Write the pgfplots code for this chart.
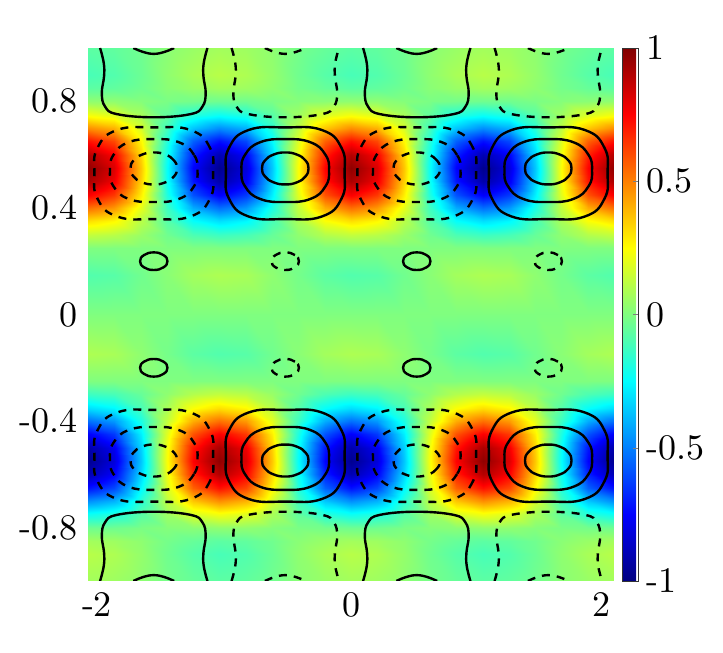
\documentclass[border=0pt]{standalone}
\usepackage{pgfplots}
\pgfplotsset{compat=1.18}
\font\lmten="[lmroman10-regular]" at 36pt
\pgfplotsset{
  sol/.style={black, line width=2.4pt, smooth, tension=0.7},
  das/.style={black, line width=2.4pt, smooth, tension=0.7, dash pattern=on 8pt off 7pt},
  solc/.style={black, line width=2.4pt, smooth cycle, tension=0.8},
  dasc/.style={black, line width=2.4pt, smooth cycle, tension=0.8, dash pattern=on 8pt off 7pt},
}
\begin{document}
\begin{tikzpicture}
\path[use as bounding box] (-88pt,-72pt) rectangle (635pt,581pt);
\begin{axis}[
  at={(0,0)}, anchor=south west,
  scale only axis, width=526pt, height=533pt,
  xmin=-2, xmax=2, ymin=-1, ymax=1,
  axis line style={draw=none}, major tick length=0pt,
  view={0}{90},
  xtick={-2,0,2}, xticklabels={\hspace*{18pt}-2,0,2\hspace*{26pt}},
  ytick={-0.8,-0.4,0,0.4,0.8}, yticklabels={-0.8,-0.4,0,0.4,0.8},
  tick label style={font=\lmten, inner sep=0pt},
  xticklabel style={yshift=-11pt},
  yticklabel style={xshift=-10pt},
  colormap/jet, point meta min=-1, point meta max=1,
  colorbar,
  colorbar style={
    at={(1.0152,1)}, anchor=north west, width=16pt,
    ytick={-1,-0.5,0,0.5,1}, yticklabels={-1,-0.5,0,0.5,1},
    ticklabel pos=right, ytick pos=right, tick align=inside, major tick length=5pt,
    yticklabel style={font=\lmten, inner sep=0pt, xshift=8pt},
    axis line style={draw=black!80, line width=0.8pt},
  },
]
\addplot3[surf, shader=interp, mesh/cols=21, mesh/ordering=x varies] table {
-2 -1 .07
-1.8 -1 .06
-1.6 -1 .03
-1.4 -1 -.02
-1.2 -1 -.05
-1 -1 -.07
-.8 -1 -.06
-.6 -1 -.03
-.4 -1 .02
-.2 -1 .05
0 -1 .07
.2 -1 .06
.4 -1 .03
.6 -1 -.02
.8 -1 -.05
1 -1 -.07
1.2 -1 -.06
1.4 -1 -.03
1.6 -1 .02
1.8 -1 .05
2 -1 .07
-2 -.9 .11
-1.8 -.9 .09
-1.6 -.9 .04
-1.4 -.9 -.03
-1.2 -.9 -.08
-1 -.9 -.11
-.8 -.9 -.09
-.6 -.9 -.04
-.4 -.9 .03
-.2 -.9 .08
0 -.9 .11
.2 -.9 .09
.4 -.9 .04
.6 -.9 -.03
.8 -.9 -.08
1 -.9 -.11
1.2 -.9 -.09
1.4 -.9 -.04
1.6 -.9 .03
1.8 -.9 .08
2 -.9 .11
-2 -.85 .07
-1.8 -.85 .06
-1.6 -.85 .03
-1.4 -.85 -.02
-1.2 -.85 -.05
-1 -.85 -.07
-.8 -.85 -.06
-.6 -.85 -.03
-.4 -.85 .02
-.2 -.85 .05
0 -.85 .07
.2 -.85 .06
.4 -.85 .03
.6 -.85 -.02
.8 -.85 -.05
1 -.85 -.07
1.2 -.85 -.06
1.4 -.85 -.03
1.6 -.85 .02
1.8 -.85 .05
2 -.85 .07
-2 -.8 -.03
-1.8 -.8 -.03
-1.6 -.8 -.01
-1.4 -.8 .01
-1.2 -.8 .02
-1 -.8 .03
-.8 -.8 .03
-.6 -.8 .01
-.4 -.8 -.01
-.2 -.8 -.02
0 -.8 -.03
.2 -.8 -.03
.4 -.8 -.01
.6 -.8 .01
.8 -.8 .02
1 -.8 .03
1.2 -.8 .03
1.4 -.8 .01
1.6 -.8 -.01
1.8 -.8 -.02
2 -.8 -.03
-2 -.75 -.23
-1.8 -.75 -.19
-1.6 -.75 -.08
-1.4 -.75 .06
-1.2 -.75 .18
-1 -.75 .23
-.8 -.75 .19
-.6 -.75 .08
-.4 -.75 -.06
-.2 -.75 -.18
0 -.75 -.23
.2 -.75 -.19
.4 -.75 -.08
.6 -.75 .06
.8 -.75 .18
1 -.75 .23
1.2 -.75 .19
1.4 -.75 .08
1.6 -.75 -.06
1.8 -.75 -.18
2 -.75 -.23
-2 -.7 -.47
-1.8 -.7 -.40
-1.6 -.7 -.17
-1.4 -.7 .12
-1.2 -.7 .36
-1 -.7 .47
-.8 -.7 .40
-.6 -.7 .17
-.4 -.7 -.12
-.2 -.7 -.36
0 -.7 -.47
.2 -.7 -.40
.4 -.7 -.17
.6 -.7 .12
.8 -.7 .36
1 -.7 .47
1.2 -.7 .40
1.4 -.7 .17
1.6 -.7 -.12
1.8 -.7 -.36
2 -.7 -.47
-2 -.65 -.72
-1.8 -.65 -.61
-1.6 -.65 -.26
-1.4 -.65 .18
-1.2 -.65 .56
-1 -.65 .72
-.8 -.65 .61
-.6 -.65 .26
-.4 -.65 -.18
-.2 -.65 -.56
0 -.65 -.72
.2 -.65 -.61
.4 -.65 -.26
.6 -.65 .18
.8 -.65 .56
1 -.65 .72
1.2 -.65 .61
1.4 -.65 .26
1.6 -.65 -.18
1.8 -.65 -.56
2 -.65 -.72
-2 -.6 -.90
-1.8 -.6 -.76
-1.6 -.6 -.33
-1.4 -.6 .22
-1.2 -.6 .69
-1 -.6 .90
-.8 -.6 .76
-.6 -.6 .33
-.4 -.6 -.22
-.2 -.6 -.69
0 -.6 -.90
.2 -.6 -.76
.4 -.6 -.33
.6 -.6 .22
.8 -.6 .69
1 -.6 .90
1.2 -.6 .76
1.4 -.6 .33
1.6 -.6 -.22
1.8 -.6 -.69
2 -.6 -.90
-2 -.55 -.97
-1.8 -.55 -.82
-1.6 -.55 -.36
-1.4 -.55 .24
-1.2 -.55 .75
-1 -.55 .97
-.8 -.55 .82
-.6 -.55 .36
-.4 -.55 -.24
-.2 -.55 -.75
0 -.55 -.97
.2 -.55 -.82
.4 -.55 -.36
.6 -.55 .24
.8 -.55 .75
1 -.55 .97
1.2 -.55 .82
1.4 -.55 .36
1.6 -.55 -.24
1.8 -.55 -.75
2 -.55 -.97
-2 -.5 -.92
-1.8 -.5 -.78
-1.6 -.5 -.34
-1.4 -.5 .23
-1.2 -.5 .71
-1 -.5 .92
-.8 -.5 .78
-.6 -.5 .34
-.4 -.5 -.23
-.2 -.5 -.71
0 -.5 -.92
.2 -.5 -.78
.4 -.5 -.34
.6 -.5 .23
.8 -.5 .71
1 -.5 .92
1.2 -.5 .78
1.4 -.5 .34
1.6 -.5 -.23
1.8 -.5 -.71
2 -.5 -.92
-2 -.45 -.76
-1.8 -.45 -.64
-1.6 -.45 -.28
-1.4 -.45 .19
-1.2 -.45 .59
-1 -.45 .76
-.8 -.45 .64
-.6 -.45 .28
-.4 -.45 -.19
-.2 -.45 -.59
0 -.45 -.76
.2 -.45 -.64
.4 -.45 -.28
.6 -.45 .19
.8 -.45 .59
1 -.45 .76
1.2 -.45 .64
1.4 -.45 .28
1.6 -.45 -.19
1.8 -.45 -.59
2 -.45 -.76
-2 -.4 -.53
-1.8 -.4 -.45
-1.6 -.4 -.20
-1.4 -.4 .13
-1.2 -.4 .41
-1 -.4 .53
-.8 -.4 .45
-.6 -.4 .20
-.4 -.4 -.13
-.2 -.4 -.41
0 -.4 -.53
.2 -.4 -.45
.4 -.4 -.20
.6 -.4 .13
.8 -.4 .41
1 -.4 .53
1.2 -.4 .45
1.4 -.4 .20
1.6 -.4 -.13
1.8 -.4 -.41
2 -.4 -.53
-2 -.35 -.31
-1.8 -.35 -.26
-1.6 -.35 -.11
-1.4 -.35 .08
-1.2 -.35 .24
-1 -.35 .31
-.8 -.35 .26
-.6 -.35 .11
-.4 -.35 -.08
-.2 -.35 -.24
0 -.35 -.31
.2 -.35 -.26
.4 -.35 -.11
.6 -.35 .08
.8 -.35 .24
1 -.35 .31
1.2 -.35 .26
1.4 -.35 .11
1.6 -.35 -.08
1.8 -.35 -.24
2 -.35 -.31
-2 -.3 -.13
-1.8 -.3 -.11
-1.6 -.3 -.05
-1.4 -.3 .03
-1.2 -.3 .10
-1 -.3 .13
-.8 -.3 .11
-.6 -.3 .05
-.4 -.3 -.03
-.2 -.3 -.10
0 -.3 -.13
.2 -.3 -.11
.4 -.3 -.05
.6 -.3 .03
.8 -.3 .10
1 -.3 .13
1.2 -.3 .11
1.4 -.3 .05
1.6 -.3 -.03
1.8 -.3 -.10
2 -.3 -.13
-2 -.25 0
-1.8 -.25 0
-1.6 -.25 0
-1.4 -.25 0
-1.2 -.25 0
-1 -.25 0
-.8 -.25 0
-.6 -.25 0
-.4 -.25 0
-.2 -.25 0
0 -.25 0
.2 -.25 0
.4 -.25 0
.6 -.25 0
.8 -.25 0
1 -.25 0
1.2 -.25 0
1.4 -.25 0
1.6 -.25 0
1.8 -.25 0
2 -.25 0
-2 -.15 .09
-1.8 -.15 .08
-1.6 -.15 .03
-1.4 -.15 -.02
-1.2 -.15 -.07
-1 -.15 -.09
-.8 -.15 -.08
-.6 -.15 -.03
-.4 -.15 .02
-.2 -.15 .07
0 -.15 .09
.2 -.15 .08
.4 -.15 .03
.6 -.15 -.02
.8 -.15 -.07
1 -.15 -.09
1.2 -.15 -.08
1.4 -.15 -.03
1.6 -.15 .02
1.8 -.15 .07
2 -.15 .09
-2 0 0
-1.8 0 0
-1.6 0 0
-1.4 0 0
-1.2 0 0
-1 0 0
-.8 0 0
-.6 0 0
-.4 0 0
-.2 0 0
0 0 0
.2 0 0
.4 0 0
.6 0 0
.8 0 0
1 0 0
1.2 0 0
1.4 0 0
1.6 0 0
1.8 0 0
2 0 0
-2 .15 -.09
-1.8 .15 -.08
-1.6 .15 -.03
-1.4 .15 .02
-1.2 .15 .07
-1 .15 .09
-.8 .15 .08
-.6 .15 .03
-.4 .15 -.02
-.2 .15 -.07
0 .15 -.09
.2 .15 -.08
.4 .15 -.03
.6 .15 .02
.8 .15 .07
1 .15 .09
1.2 .15 .08
1.4 .15 .03
1.6 .15 -.02
1.8 .15 -.07
2 .15 -.09
-2 .25 0
-1.8 .25 0
-1.6 .25 0
-1.4 .25 0
-1.2 .25 0
-1 .25 0
-.8 .25 0
-.6 .25 0
-.4 .25 0
-.2 .25 0
0 .25 0
.2 .25 0
.4 .25 0
.6 .25 0
.8 .25 0
1 .25 0
1.2 .25 0
1.4 .25 0
1.6 .25 0
1.8 .25 0
2 .25 0
-2 .3 .13
-1.8 .3 .11
-1.6 .3 .05
-1.4 .3 -.03
-1.2 .3 -.10
-1 .3 -.13
-.8 .3 -.11
-.6 .3 -.05
-.4 .3 .03
-.2 .3 .10
0 .3 .13
.2 .3 .11
.4 .3 .05
.6 .3 -.03
.8 .3 -.10
1 .3 -.13
1.2 .3 -.11
1.4 .3 -.05
1.6 .3 .03
1.8 .3 .10
2 .3 .13
-2 .35 .31
-1.8 .35 .26
-1.6 .35 .11
-1.4 .35 -.08
-1.2 .35 -.24
-1 .35 -.31
-.8 .35 -.26
-.6 .35 -.11
-.4 .35 .08
-.2 .35 .24
0 .35 .31
.2 .35 .26
.4 .35 .11
.6 .35 -.08
.8 .35 -.24
1 .35 -.31
1.2 .35 -.26
1.4 .35 -.11
1.6 .35 .08
1.8 .35 .24
2 .35 .31
-2 .4 .53
-1.8 .4 .45
-1.6 .4 .20
-1.4 .4 -.13
-1.2 .4 -.41
-1 .4 -.53
-.8 .4 -.45
-.6 .4 -.20
-.4 .4 .13
-.2 .4 .41
0 .4 .53
.2 .4 .45
.4 .4 .20
.6 .4 -.13
.8 .4 -.41
1 .4 -.53
1.2 .4 -.45
1.4 .4 -.20
1.6 .4 .13
1.8 .4 .41
2 .4 .53
-2 .45 .76
-1.8 .45 .64
-1.6 .45 .28
-1.4 .45 -.19
-1.2 .45 -.59
-1 .45 -.76
-.8 .45 -.64
-.6 .45 -.28
-.4 .45 .19
-.2 .45 .59
0 .45 .76
.2 .45 .64
.4 .45 .28
.6 .45 -.19
.8 .45 -.59
1 .45 -.76
1.2 .45 -.64
1.4 .45 -.28
1.6 .45 .19
1.8 .45 .59
2 .45 .76
-2 .5 .92
-1.8 .5 .78
-1.6 .5 .34
-1.4 .5 -.23
-1.2 .5 -.71
-1 .5 -.92
-.8 .5 -.78
-.6 .5 -.34
-.4 .5 .23
-.2 .5 .71
0 .5 .92
.2 .5 .78
.4 .5 .34
.6 .5 -.23
.8 .5 -.71
1 .5 -.92
1.2 .5 -.78
1.4 .5 -.34
1.6 .5 .23
1.8 .5 .71
2 .5 .92
-2 .55 .97
-1.8 .55 .82
-1.6 .55 .36
-1.4 .55 -.24
-1.2 .55 -.75
-1 .55 -.97
-.8 .55 -.82
-.6 .55 -.36
-.4 .55 .24
-.2 .55 .75
0 .55 .97
.2 .55 .82
.4 .55 .36
.6 .55 -.24
.8 .55 -.75
1 .55 -.97
1.2 .55 -.82
1.4 .55 -.36
1.6 .55 .24
1.8 .55 .75
2 .55 .97
-2 .6 .90
-1.8 .6 .76
-1.6 .6 .33
-1.4 .6 -.22
-1.2 .6 -.69
-1 .6 -.90
-.8 .6 -.76
-.6 .6 -.33
-.4 .6 .22
-.2 .6 .69
0 .6 .90
.2 .6 .76
.4 .6 .33
.6 .6 -.22
.8 .6 -.69
1 .6 -.90
1.2 .6 -.76
1.4 .6 -.33
1.6 .6 .22
1.8 .6 .69
2 .6 .90
-2 .65 .72
-1.8 .65 .61
-1.6 .65 .26
-1.4 .65 -.18
-1.2 .65 -.56
-1 .65 -.72
-.8 .65 -.61
-.6 .65 -.26
-.4 .65 .18
-.2 .65 .56
0 .65 .72
.2 .65 .61
.4 .65 .26
.6 .65 -.18
.8 .65 -.56
1 .65 -.72
1.2 .65 -.61
1.4 .65 -.26
1.6 .65 .18
1.8 .65 .56
2 .65 .72
-2 .7 .47
-1.8 .7 .40
-1.6 .7 .17
-1.4 .7 -.12
-1.2 .7 -.36
-1 .7 -.47
-.8 .7 -.40
-.6 .7 -.17
-.4 .7 .12
-.2 .7 .36
0 .7 .47
.2 .7 .40
.4 .7 .17
.6 .7 -.12
.8 .7 -.36
1 .7 -.47
1.2 .7 -.40
1.4 .7 -.17
1.6 .7 .12
1.8 .7 .36
2 .7 .47
-2 .75 .23
-1.8 .75 .19
-1.6 .75 .08
-1.4 .75 -.06
-1.2 .75 -.18
-1 .75 -.23
-.8 .75 -.19
-.6 .75 -.08
-.4 .75 .06
-.2 .75 .18
0 .75 .23
.2 .75 .19
.4 .75 .08
.6 .75 -.06
.8 .75 -.18
1 .75 -.23
1.2 .75 -.19
1.4 .75 -.08
1.6 .75 .06
1.8 .75 .18
2 .75 .23
-2 .8 .03
-1.8 .8 .03
-1.6 .8 .01
-1.4 .8 -.01
-1.2 .8 -.02
-1 .8 -.03
-.8 .8 -.03
-.6 .8 -.01
-.4 .8 .01
-.2 .8 .02
0 .8 .03
.2 .8 .03
.4 .8 .01
.6 .8 -.01
.8 .8 -.02
1 .8 -.03
1.2 .8 -.03
1.4 .8 -.01
1.6 .8 .01
1.8 .8 .02
2 .8 .03
-2 .85 -.07
-1.8 .85 -.06
-1.6 .85 -.03
-1.4 .85 .02
-1.2 .85 .05
-1 .85 .07
-.8 .85 .06
-.6 .85 .03
-.4 .85 -.02
-.2 .85 -.05
0 .85 -.07
.2 .85 -.06
.4 .85 -.03
.6 .85 .02
.8 .85 .05
1 .85 .07
1.2 .85 .06
1.4 .85 .03
1.6 .85 -.02
1.8 .85 -.05
2 .85 -.07
-2 .9 -.11
-1.8 .9 -.09
-1.6 .9 -.04
-1.4 .9 .03
-1.2 .9 .08
-1 .9 .11
-.8 .9 .09
-.6 .9 .04
-.4 .9 -.03
-.2 .9 -.08
0 .9 -.11
.2 .9 -.09
.4 .9 -.04
.6 .9 .03
.8 .9 .08
1 .9 .11
1.2 .9 .09
1.4 .9 .04
1.6 .9 -.03
1.8 .9 -.08
2 .9 -.11
-2 1 -.07
-1.8 1 -.06
-1.6 1 -.03
-1.4 1 .02
-1.2 1 .05
-1 1 .07
-.8 1 .06
-.6 1 .03
-.4 1 -.02
-.2 1 -.05
0 1 -.07
.2 1 -.06
.4 1 -.03
.6 1 .02
.8 1 .05
1 1 .07
1.2 1 .06
1.4 1 .03
1.6 1 -.02
1.8 1 -.05
2 1 -.07
};
% top rings, outer
\addplot[dasc] coordinates {(-1.049,.53) (-1.072,.625) (-1.22,.692) (-1.5,.702) (-1.78,.692) (-1.928,.625) (-1.951,.53) (-1.928,.435) (-1.78,.368) (-1.5,.358) (-1.22,.368) (-1.072,.435)};
\addplot[solc] coordinates {(-.049,.53) (-.072,.625) (-.22,.692) (-.5,.702) (-.78,.692) (-.928,.625) (-.951,.53) (-.928,.435) (-.78,.368) (-.5,.358) (-.22,.368) (-.072,.435)};
\addplot[dasc] coordinates {(.951,.53) (.928,.625) (.78,.692) (.5,.702) (.22,.692) (.072,.625) (.049,.53) (.072,.435) (.22,.368) (.5,.358) (.78,.368) (.928,.435)};
\addplot[solc] coordinates {(1.951,.53) (1.928,.625) (1.78,.692) (1.5,.702) (1.22,.692) (1.072,.625) (1.049,.53) (1.072,.435) (1.22,.368) (1.5,.358) (1.78,.368) (1.928,.435)};
% top rings, middle
\addplot[dasc] coordinates {(-1.167,.54) (-1.194,.599) (-1.307,.646) (-1.5,.658) (-1.693,.646) (-1.806,.599) (-1.833,.54) (-1.806,.481) (-1.693,.434) (-1.5,.422) (-1.307,.434) (-1.194,.481)};
\addplot[solc] coordinates {(-.167,.54) (-.194,.599) (-.307,.646) (-.5,.658) (-.693,.646) (-.806,.599) (-.833,.54) (-.806,.481) (-.693,.434) (-.5,.422) (-.307,.434) (-.194,.481)};
\addplot[dasc] coordinates {(.833,.54) (.806,.599) (.693,.646) (.5,.658) (.307,.646) (.194,.599) (.167,.54) (.194,.481) (.307,.434) (.5,.422) (.693,.434) (.806,.481)};
\addplot[solc] coordinates {(1.833,.54) (1.806,.599) (1.693,.646) (1.5,.658) (1.307,.646) (1.194,.599) (1.167,.54) (1.194,.481) (1.307,.434) (1.5,.422) (1.693,.434) (1.806,.481)};
% top rings, inner
\addplot[dasc] coordinates {(-1.323,.548) (-1.346,.578) (-1.411,.6) (-1.5,.608) (-1.589,.6) (-1.654,.578) (-1.677,.548) (-1.654,.518) (-1.589,.496) (-1.5,.488) (-1.411,.496) (-1.346,.518)};
\addplot[solc] coordinates {(-.323,.548) (-.346,.578) (-.411,.6) (-.5,.608) (-.589,.6) (-.654,.578) (-.677,.548) (-.654,.518) (-.589,.496) (-.5,.488) (-.411,.496) (-.346,.518)};
\addplot[dasc] coordinates {(.677,.548) (.654,.578) (.589,.6) (.5,.608) (.411,.6) (.346,.578) (.323,.548) (.346,.518) (.411,.496) (.5,.488) (.589,.496) (.654,.518)};
\addplot[solc] coordinates {(1.677,.548) (1.654,.578) (1.589,.6) (1.5,.608) (1.411,.6) (1.346,.578) (1.323,.548) (1.346,.518) (1.411,.496) (1.5,.488) (1.589,.496) (1.654,.518)};
% bottom rings, outer
\addplot[dasc] coordinates {(-1.049,-.53) (-1.072,-.625) (-1.22,-.692) (-1.5,-.702) (-1.78,-.692) (-1.928,-.625) (-1.951,-.53) (-1.928,-.435) (-1.78,-.368) (-1.5,-.358) (-1.22,-.368) (-1.072,-.435)};
\addplot[solc] coordinates {(-.049,-.53) (-.072,-.625) (-.22,-.692) (-.5,-.702) (-.78,-.692) (-.928,-.625) (-.951,-.53) (-.928,-.435) (-.78,-.368) (-.5,-.358) (-.22,-.368) (-.072,-.435)};
\addplot[dasc] coordinates {(.951,-.53) (.928,-.625) (.78,-.692) (.5,-.702) (.22,-.692) (.072,-.625) (.049,-.53) (.072,-.435) (.22,-.368) (.5,-.358) (.78,-.368) (.928,-.435)};
\addplot[solc] coordinates {(1.951,-.53) (1.928,-.625) (1.78,-.692) (1.5,-.702) (1.22,-.692) (1.072,-.625) (1.049,-.53) (1.072,-.435) (1.22,-.368) (1.5,-.358) (1.78,-.368) (1.928,-.435)};
% bottom rings, middle
\addplot[dasc] coordinates {(-1.167,-.54) (-1.194,-.599) (-1.307,-.646) (-1.5,-.658) (-1.693,-.646) (-1.806,-.599) (-1.833,-.54) (-1.806,-.481) (-1.693,-.434) (-1.5,-.422) (-1.307,-.434) (-1.194,-.481)};
\addplot[solc] coordinates {(-.167,-.54) (-.194,-.599) (-.307,-.646) (-.5,-.658) (-.693,-.646) (-.806,-.599) (-.833,-.54) (-.806,-.481) (-.693,-.434) (-.5,-.422) (-.307,-.434) (-.194,-.481)};
\addplot[dasc] coordinates {(.833,-.54) (.806,-.599) (.693,-.646) (.5,-.658) (.307,-.646) (.194,-.599) (.167,-.54) (.194,-.481) (.307,-.434) (.5,-.422) (.693,-.434) (.806,-.481)};
\addplot[solc] coordinates {(1.833,-.54) (1.806,-.599) (1.693,-.646) (1.5,-.658) (1.307,-.646) (1.194,-.599) (1.167,-.54) (1.194,-.481) (1.307,-.434) (1.5,-.422) (1.693,-.434) (1.806,-.481)};
% bottom rings, inner
\addplot[dasc] coordinates {(-1.323,-.548) (-1.346,-.578) (-1.411,-.6) (-1.5,-.608) (-1.589,-.6) (-1.654,-.578) (-1.677,-.548) (-1.654,-.518) (-1.589,-.496) (-1.5,-.488) (-1.411,-.496) (-1.346,-.518)};
\addplot[solc] coordinates {(-.323,-.548) (-.346,-.578) (-.411,-.6) (-.5,-.608) (-.589,-.6) (-.654,-.578) (-.677,-.548) (-.654,-.518) (-.589,-.496) (-.5,-.488) (-.411,-.496) (-.346,-.518)};
\addplot[dasc] coordinates {(.677,-.548) (.654,-.578) (.589,-.6) (.5,-.608) (.411,-.6) (.346,-.578) (.323,-.548) (.346,-.518) (.411,-.496) (.5,-.488) (.589,-.496) (.654,-.518)};
\addplot[solc] coordinates {(1.677,-.548) (1.654,-.578) (1.589,-.6) (1.5,-.608) (1.411,-.6) (1.346,-.578) (1.323,-.548) (1.346,-.518) (1.411,-.496) (1.5,-.488) (1.589,-.496) (1.654,-.518)};
% small loops near y=.2
\addplot[solc] coordinates {(-1.396,.2) (-1.426,.223) (-1.5,.233) (-1.574,.223) (-1.604,.2) (-1.574,.177) (-1.5,.167) (-1.426,.177)};
\addplot[dasc] coordinates {(-.396,.2) (-.426,.223) (-.5,.233) (-.574,.223) (-.604,.2) (-.574,.177) (-.5,.167) (-.426,.177)};
\addplot[solc] coordinates {(.604,.2) (.574,.223) (.5,.233) (.426,.223) (.396,.2) (.426,.177) (.5,.167) (.574,.177)};
\addplot[dasc] coordinates {(1.604,.2) (1.574,.223) (1.5,.233) (1.426,.223) (1.396,.2) (1.426,.177) (1.5,.167) (1.574,.177)};
% small loops near y=-.2
\addplot[solc] coordinates {(-1.396,-.2) (-1.426,-.177) (-1.5,-.167) (-1.574,-.177) (-1.604,-.2) (-1.574,-.223) (-1.5,-.233) (-1.426,-.223)};
\addplot[dasc] coordinates {(-.396,-.2) (-.426,-.177) (-.5,-.167) (-.574,-.177) (-.604,-.2) (-.574,-.223) (-.5,-.233) (-.426,-.223)};
\addplot[solc] coordinates {(.604,-.2) (.574,-.177) (.5,-.167) (.426,-.177) (.396,-.2) (.426,-.223) (.5,-.233) (.574,-.223)};
\addplot[dasc] coordinates {(1.604,-.2) (1.574,-.177) (1.5,-.167) (1.426,-.177) (1.396,-.2) (1.426,-.223) (1.5,-.233) (1.574,-.223)};
% open curves at the top
\addplot[sol] coordinates {(-1.908,1) (-1.88,.943) (-1.878,.893) (-1.895,.83) (-1.87,.78) (-1.781,.752) (-1.5,.74) (-1.219,.752) (-1.13,.78) (-1.105,.83) (-1.122,.893) (-1.12,.943) (-1.092,1)};
\addplot[das] coordinates {(-.908,1) (-.88,.943) (-.878,.893) (-.895,.83) (-.87,.78) (-.781,.752) (-.5,.74) (-.219,.752) (-.13,.78) (-.105,.83) (-.122,.893) (-.12,.943) (-.092,1)};
\addplot[sol] coordinates {(.092,1) (.12,.943) (.122,.893) (.105,.83) (.13,.78) (.219,.752) (.5,.74) (.781,.752) (.87,.78) (.895,.83) (.878,.893) (.88,.943) (.908,1)};
\addplot[das] coordinates {(1.092,1) (1.12,.943) (1.122,.893) (1.105,.83) (1.13,.78) (1.219,.752) (1.5,.74) (1.781,.752) (1.87,.78) (1.895,.83) (1.878,.893) (1.88,.943) (1.908,1)};
\addplot[sol] coordinates {(-1.655,1) (-1.58,.985) (-1.5,.978) (-1.42,.985) (-1.345,1)};
\addplot[das] coordinates {(-.655,1) (-.58,.985) (-.5,.978) (-.42,.985) (-.345,1)};
\addplot[sol] coordinates {(.345,1) (.42,.985) (.5,.978) (.58,.985) (.655,1)};
\addplot[das] coordinates {(1.345,1) (1.42,.985) (1.5,.978) (1.58,.985) (1.655,1)};
% open curves at the bottom
\addplot[sol] coordinates {(-1.908,-1) (-1.88,-.943) (-1.878,-.893) (-1.895,-.83) (-1.87,-.78) (-1.781,-.752) (-1.5,-.74) (-1.219,-.752) (-1.13,-.78) (-1.105,-.83) (-1.122,-.893) (-1.12,-.943) (-1.092,-1)};
\addplot[das] coordinates {(-.908,-1) (-.88,-.943) (-.878,-.893) (-.895,-.83) (-.87,-.78) (-.781,-.752) (-.5,-.74) (-.219,-.752) (-.13,-.78) (-.105,-.83) (-.122,-.893) (-.12,-.943) (-.092,-1)};
\addplot[sol] coordinates {(.092,-1) (.12,-.943) (.122,-.893) (.105,-.83) (.13,-.78) (.219,-.752) (.5,-.74) (.781,-.752) (.87,-.78) (.895,-.83) (.878,-.893) (.88,-.943) (.908,-1)};
\addplot[das] coordinates {(1.092,-1) (1.12,-.943) (1.122,-.893) (1.105,-.83) (1.13,-.78) (1.219,-.752) (1.5,-.74) (1.781,-.752) (1.87,-.78) (1.895,-.83) (1.878,-.893) (1.88,-.943) (1.908,-1)};
\addplot[sol] coordinates {(-1.655,-1) (-1.58,-.985) (-1.5,-.978) (-1.42,-.985) (-1.345,-1)};
\addplot[das] coordinates {(-.655,-1) (-.58,-.985) (-.5,-.978) (-.42,-.985) (-.345,-1)};
\addplot[sol] coordinates {(.345,-1) (.42,-.985) (.5,-.978) (.58,-.985) (.655,-1)};
\addplot[das] coordinates {(1.345,-1) (1.42,-.985) (1.5,-.978) (1.58,-.985) (1.655,-1)};
\end{axis}
\end{tikzpicture}
\end{document}
